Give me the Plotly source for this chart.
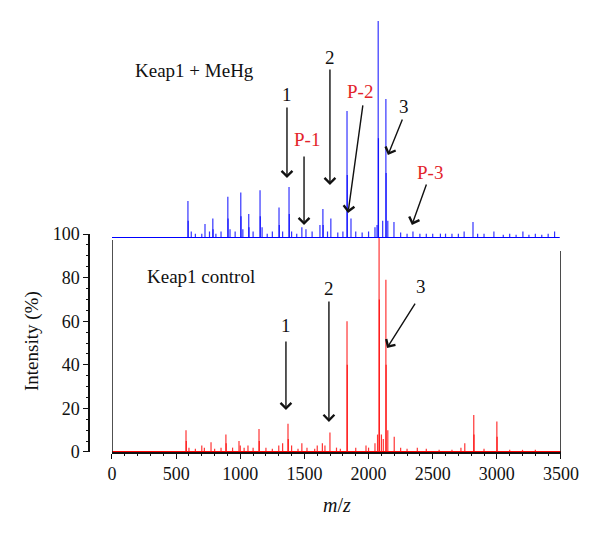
import plotly.graph_objects as go

# peak lists (m/z, relative intensity %)
mehg_mz = [592, 594, 618, 650, 700, 725, 760, 786, 788, 810, 850, 903, 905, 920, 960,
           1004, 1006, 1020, 1066, 1068, 1100, 1154, 1156, 1170, 1210, 1250, 1302, 1304,
           1330, 1380, 1382, 1400, 1440, 1480, 1512, 1560, 1621, 1644, 1646, 1680, 1706,
           1760, 1800, 1832, 1834, 1863, 1900, 1950, 2000, 2050, 2066, 2075, 2077, 2110,
           2135, 2137, 2150, 2198, 2250, 2300, 2346, 2400, 2450, 2500, 2560, 2600, 2650,
           2700, 2745, 2814, 2850, 2900, 2977, 3050, 3100, 3150, 3203, 3250, 3300, 3350,
           3400, 3450]
mehg_int = [17, 8, 3, 2, 2, 6.5, 3, 9, 4, 2, 3, 19, 9, 4, 3,
            21, 10, 4, 11, 5, 3, 22, 10, 5, 2, 3, 14, 6,
            3, 23.5, 11, 3, 2, 5, 4, 3, 6, 13.4, 6, 3, 9,
            2.5, 3, 58.5, 29, 9, 3, 2.5, 3, 5, 6, 100, 46, 8,
            64, 30, 8, 7.4, 2.5, 2, 3, 2, 2, 2, 2, 2, 2,
            2, 3, 7.4, 2, 2, 3, 1.5, 2, 1.5, 3, 1.5, 2, 1.5,
            2, 3]

ctrl_mz = [577, 579, 600, 650, 700, 720, 772, 800, 850, 888, 890, 940, 990, 1000, 1030,
           1060, 1100, 1146, 1148, 1200, 1250, 1300, 1330, 1372, 1374, 1400, 1450, 1480,
           1520, 1580, 1600, 1640, 1660, 1699, 1750, 1780, 1832, 1834, 1900, 1980, 2000,
           2050, 2070, 2082, 2084, 2100, 2115, 2135, 2137, 2150, 2200, 2250, 2300, 2380,
           2450, 2550, 2650, 2720, 2750, 2820, 2822, 2900, 3000, 3002, 3100, 3200, 3300]
ctrl_int = [10, 5, 2, 1.5, 3, 2, 4.5, 1.5, 2, 8, 4, 2, 5, 3, 2,
            3, 2, 10.5, 5, 2, 1.5, 3, 4, 13, 6, 3, 1.5, 4,
            2, 1.5, 3, 4, 3, 9, 2, 1.5, 60, 40, 2, 3, 2,
            4, 8, 100, 70, 8, 6, 79, 40, 10, 7, 2, 1.5, 2,
            1.5, 1, 1, 2, 4, 17, 8, 1.5, 14, 7, 1, 1, 1]

x_ticks = [0, 500, 1000, 1500, 2000, 2500, 3000, 3500]
y_ticks = [0, 20, 40, 60, 80, 100]

FONT = "Liberation Serif"


def sticks(mz, inten):
    xs, ys = [], []
    for m, v in zip(mz, inten):
        xs += [m, m, None]
        ys += [0, v, None]
    return xs, ys


fig = go.Figure()

# control spectrum (bottom)
bx, by = sticks(ctrl_mz, ctrl_int)
fig.add_trace(go.Scatter(x=[0, 3500], y=[0, 0], mode="lines",
                         line=dict(color="#ff0000", width=2), yaxis="y", hoverinfo="skip"))
fig.add_trace(go.Scatter(x=bx, y=by, mode="lines",
                         line=dict(color="rgba(255,0,0,0.8)", width=1.2), yaxis="y"))

# MeHg spectrum (top)
tx, ty = sticks(mehg_mz, mehg_int)
fig.add_trace(go.Scatter(x=[0, 3490], y=[0, 0], mode="lines",
                         line=dict(color="#0000ff", width=2), yaxis="y2", hoverinfo="skip"))
fig.add_trace(go.Scatter(x=tx, y=ty, mode="lines",
                         line=dict(color="rgba(0,0,255,0.8)", width=1.2), yaxis="y2"))

black = "#111111"
red = "#e3242b"

# frame lines of the lower panel
fig.add_shape(type="line", xref="x", yref="y", x0=0, x1=0, y0=0, y1=97.2,
              line=dict(color=black, width=1.5))
fig.add_shape(type="line", xref="x", yref="y", x0=3500, x1=3500, y0=0, y1=92.2,
              line=dict(color=black, width=1.5))

annos = []


def arrow(x_head, y_head, x_tail, y_tail, yax):
    annos.append(dict(x=x_head, y=y_head, ax=x_tail, ay=y_tail, xref="x", yref=yax,
                      axref="x", ayref=yax, text="", showarrow=True, arrowhead=4,
                      arrowsize=1.5, arrowwidth=1.4, arrowcolor=black, standoff=0))


def label(x, y, text, yax, color=black, anchor="center"):
    annos.append(dict(x=x, y=y, xref="x", yref=yax, text=text, showarrow=False,
                      xanchor=anchor, yanchor="middle",
                      font=dict(family=FONT, size=19, color=color)))


# top panel labels
label(164, 77.4, "Keap1 + MeHg", "y2", anchor="left")
label(1364, 65.9, "1", "y2"); arrow(1364, 27.6, 1364, 60.8, "y2")
label(1520, 45.2, "P-1", "y2", red); arrow(1497, 6, 1497, 38.2, "y2")
label(1699, 83.4, "2", "y2"); arrow(1699, 24.4, 1699, 78.3, "y2")
label(1933, 67.3, "P-2", "y2", red); arrow(1840, 11.5, 1957, 61.8, "y2")
label(2276, 60.4, "3", "y2"); arrow(2151, 38.2, 2268, 55.3, "y2")
label(2479, 30.4, "P-3", "y2", red); arrow(2338, 6, 2455, 25.3, "y2")

# bottom panel labels
label(257, 80.3, "Keap1 control", "y", anchor="left")
label(1356, 57.8, "1", "y"); arrow(1356, 19.3, 1356, 51.4, "y")
label(1691, 75.2, "2", "y"); arrow(1691, 13.8, 1691, 69.7, "y")
label(2409, 75.7, "3", "y"); arrow(2144, 47.7, 2370, 68.8, "y")

# axis titles
annos.append(dict(x=-0.1208, y=0.2511, xref="paper", yref="paper", text="Intensity (%)",
                  textangle=-90, showarrow=False, xanchor="center", yanchor="middle",
                  font=dict(family=FONT, size=19, color=black)))
annos.append(dict(x=0.5254, y=-0.12, xref="paper", yref="paper", text="<i>m</i>/<i>z</i>",
                  showarrow=False, xanchor="center", yanchor="middle",
                  font=dict(family=FONT, size=20, color=black)))

fig.update_layout(
    width=592, height=528,
    margin=dict(l=81, r=39, t=2, b=84, autoexpand=False),
    paper_bgcolor="white", plot_bgcolor="white",
    showlegend=False,
    annotations=annos,
    font=dict(family=FONT, size=18, color=black),
    xaxis=dict(domain=[0.0487, 1], range=[0, 3500], anchor="y",
               tickvals=x_ticks, ticks="outside", ticklen=5, tickwidth=1.3,
               tickcolor=black, showline=True, linecolor=black, linewidth=1.5,
               showgrid=False, zeroline=False, automargin=False,
               minor=dict(dtick=100, ticks="outside", ticklen=2.5, tickcolor=black, tickwidth=1)),
    yaxis=dict(domain=[0, 0.4932], range=[0, 100], anchor="free", position=0,
               tickvals=y_ticks, ticks="outside", ticklen=5, tickwidth=1.3,
               tickcolor=black, showline=True, linecolor=black, linewidth=1.5,
               showgrid=False, zeroline=False, automargin=False,
               minor=dict(dtick=5, ticks="outside", ticklen=2.5, tickcolor=black, tickwidth=1)),
    yaxis2=dict(domain=[0.4842, 0.9751], range=[0, 100], anchor="x", visible=False,
                showgrid=False, zeroline=False, automargin=False),
)

fig.write_html("out.html")
